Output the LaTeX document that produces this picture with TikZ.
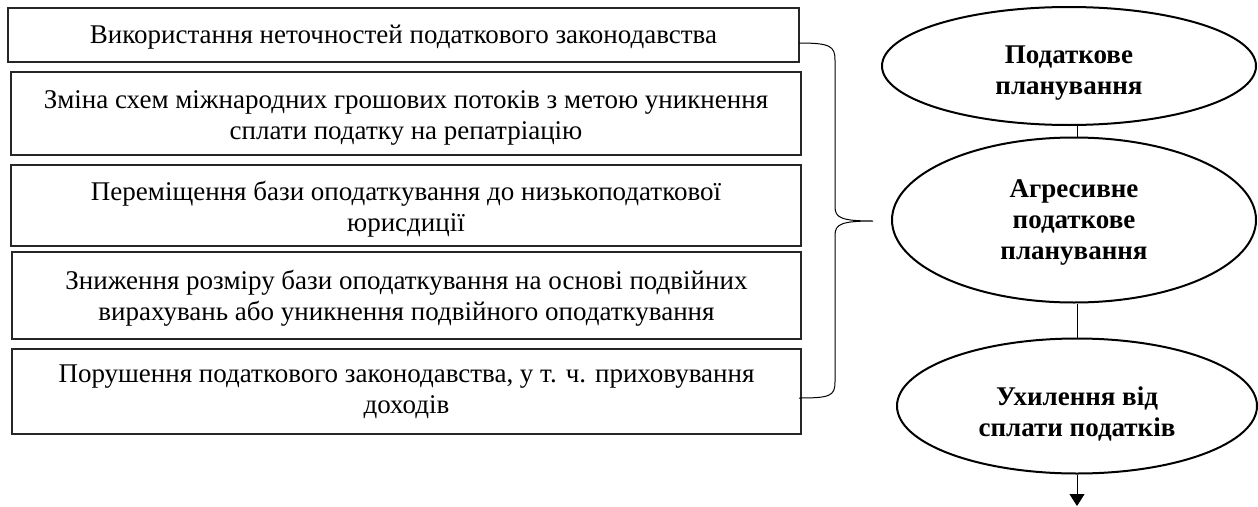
\documentclass[tikz,border=0pt]{standalone}
\usepackage{fontspec}
\setmainfont{Liberation Serif}
\usetikzlibrary{shapes.geometric,arrows.meta}
\begin{document}
\begin{tikzpicture}[x=1pt,y=-1pt,
  box/.style={draw=black!85, line width=1.2pt, rectangle, inner sep=0pt},
  boxtext/.style={inner sep=0pt, align=center, font=\fontsize{27}{31}\selectfont},
  oval/.style={draw, line width=2pt, ellipse, inner sep=0pt},
  ovaltext/.style={inner sep=0pt, align=center, font=\fontsize{27}{31}\selectfont\bfseries},
  link/.style={draw, line width=1pt},
  bracepath/.style={draw, line width=1pt}]
\useasboundingbox (0,0) rectangle (1258,506);

\node[box, minimum width=791pt, minimum height=54pt] (b1) at (403.5,35) {};
\node[box, minimum width=790pt, minimum height=83pt] (b2) at (406,113.5) {};
\node[box, minimum width=790pt, minimum height=81pt] (b3) at (406,205.5) {};
\node[box, minimum width=789pt, minimum height=87pt] (b4) at (406.5,295.5) {};
\node[box, minimum width=789pt, minimum height=85pt] (b5) at (406.5,391.5) {};

\node[boxtext, yshift=-2pt] (t1) at (b1.center)
  {Використання неточностей податкового законодавства};
\node[boxtext, yshift=-4pt] (t2) at (b2.center)
  {Зміна схем міжнародних грошових потоків з метою уникнення\\сплати податку на репатріацію};
\node[boxtext, yshift=-4pt] (t3) at (b3.center)
  {Переміщення бази оподаткування до низькоподаткової\\юрисдиції};
\node[boxtext, yshift=-3pt] (t4) at (b4.center)
  {Зниження розміру бази оподаткування на основі подвійних\\вирахувань або уникнення подвійного оподаткування};
\node[boxtext] (t5) at (b5.center)
  {Порушення податкового законодавства, у т. ч. приховування\\доходів};

\node[oval, minimum width=374pt, minimum height=118pt] (e1) at (1069,66) {};
\node[oval, minimum width=364pt, minimum height=165pt] (e2) at (1074,220) {};
\node[oval, minimum width=360pt, minimum height=135pt] (e3) at (1077,406) {};

\node[ovaltext, yshift=-7pt] (o1) at (e1.center) {Податкове\\планування};
\node[ovaltext, yshift=-2pt] (o2) at (e2.center) {Агресивне\\податкове\\планування};
\node[ovaltext, yshift=-8pt] (o3) at (e3.center) {Ухилення від\\сплати податків};

\coordinate (brtop) at (799,43);
\coordinate (brbot) at (799,398);
\coordinate (brtip) at (873,221);
\path[bracepath] (brtop) .. controls (830,43) and (835,46) .. (835,60)
  -- (835,207) .. controls (835,218) and (842,221) .. (brtip)
  .. controls (842,221) and (835,224) .. (835,235)
  -- (835,382) .. controls (835,396) and (830,398) .. (brbot);

\path[link] (e1.south -| e3.center) -- (e2.north -| e3.center);
\path[link] (e2.south -| e3.center) -- (e3.north);
\coordinate (arrend) at (1077,506);
\path[link, -{Triangle[width=15pt,length=12pt]}] (e3.south) -- (arrend);
\end{tikzpicture}
\end{document}
